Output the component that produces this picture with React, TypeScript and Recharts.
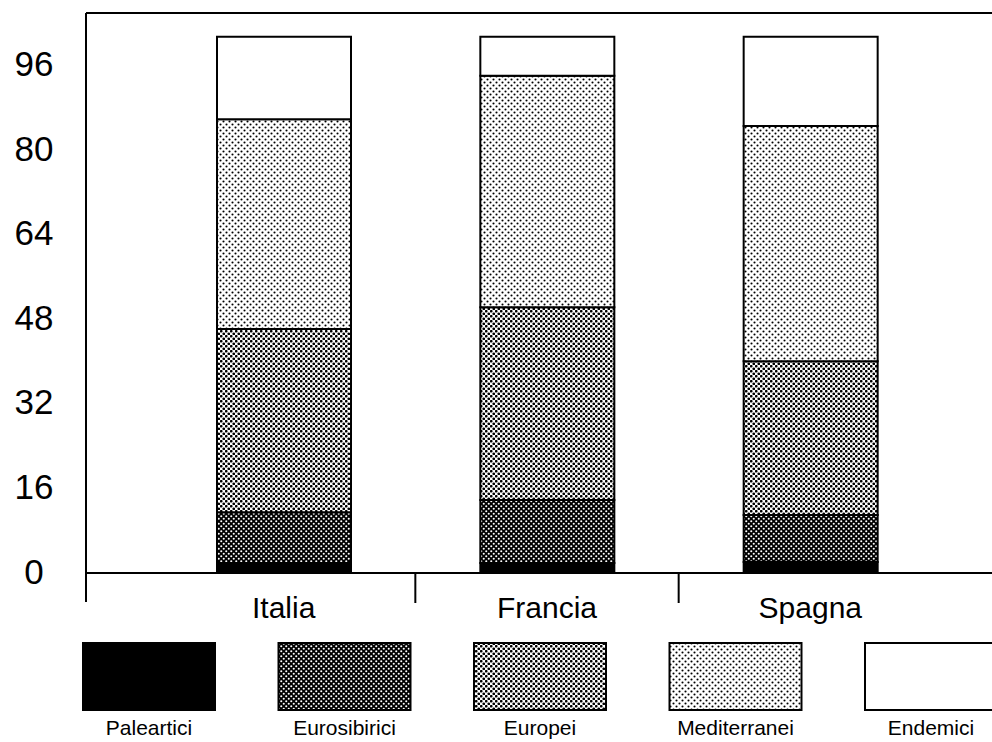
import { BarChart, Bar, XAxis, YAxis, ReferenceLine } from "recharts";

const categories = ["Italia", "Francia", "Spagna"];
const paleartici = [1.9, 1.9, 2.1];
const eurosibirici = [9.6, 11.9, 8.9];
const europei = [34.7, 36.5, 29.1];
const mediterranei = [39.7, 43.8, 44.5];
const endemici = [15.6, 7.4, 16.9];
const yTicks = [0, 16, 32, 48, 64, 80, 96];
const yMax = 106;

const FONT = "'Liberation Sans', Arial, Helvetica, sans-serif";
const PAD_LEFT = 66;

const series = [
  { key: "Paleartici", values: paleartici, pat: "", fill: "#000" },
  { key: "Eurosibirici", values: eurosibirici, pat: "sib", fill: "" },
  { key: "Europei", values: europei, pat: "eur", fill: "" },
  { key: "Mediterranei", values: mediterranei, pat: "med", fill: "" },
  { key: "Endemici", values: endemici, pat: "", fill: "#fff" },
];

const data = categories.map((name, i) => {
  const row: Record<string, string | number> = { name };
  series.forEach((s) => (row[s.key] = s.values[i]));
  return row;
});

const fillFor = (s: (typeof series)[number], prefix: string) =>
  s.pat ? `url(#${prefix}${s.pat})` : s.fill;

// halftone screens like the printed figure
const patternDefs = (p: string) => (
  <defs>
    <pattern id={`${p}sib`} width={5} height={5} patternUnits="userSpaceOnUse">
      <rect width={5} height={5} fill="#000" />
      <circle cx={1.25} cy={1.25} r={1.05} fill="#fff" />
      <circle cx={3.75} cy={3.75} r={1.05} fill="#fff" />
    </pattern>
    <pattern id={`${p}eur`} width={5} height={5} patternUnits="userSpaceOnUse">
      <rect width={5} height={5} fill="#fff" />
      <circle cx={1.25} cy={1.25} r={1.35} fill="#000" />
      <circle cx={3.75} cy={3.75} r={1.35} fill="#000" />
    </pattern>
    <pattern id={`${p}med`} width={6} height={6} patternUnits="userSpaceOnUse">
      <rect width={6} height={6} fill="#fff" />
      <circle cx={1.5} cy={1.5} r={1.05} fill="#000" />
      <circle cx={4.5} cy={4.5} r={1.05} fill="#000" />
    </pattern>
  </defs>
);

const YTick = (props: any) => {
  const { y, payload } = props;
  return (
    <text x={34} y={y - 2} textAnchor="middle" dominantBaseline="central" fontSize={35} fontFamily={FONT} fill="#000">
      {payload.value}
    </text>
  );
};

const XTick = (props: any) => {
  const { x, y, payload, index } = props;
  const half = payload.offset ?? 0;
  return (
    <g>
      {index < categories.length - 1 && (
        <line x1={x + half} x2={x + half} y1={y} y2={y + 30} stroke="#000" strokeWidth={2} />
      )}
      {index === 0 && (
        <line x1={x - half - PAD_LEFT} x2={x - half - PAD_LEFT} y1={y} y2={y + 29} stroke="#000" strokeWidth={2} />
      )}
      <text x={x} y={y + 45} textAnchor="middle" fontSize={30} fontFamily={FONT} fill="#000">
        {payload.value}
      </text>
    </g>
  );
};

const LegendRow = () => (
  <svg width={992} height={112} style={{ position: "absolute", left: 0, top: 630 }}>
    {patternDefs("lg")}
    {series.map((s, i) => {
      const x = 83 + i * 195.5;
      return (
        <g key={s.key}>
          <rect x={x} y={13} width={132} height={67} fill={fillFor(s, "lg")} stroke="#000" strokeWidth={2} />
          <text x={x + 66} y={105} textAnchor="middle" fontSize={21} fontFamily={FONT} fill="#000">
            {s.key}
          </text>
        </g>
      );
    })}
  </svg>
);

export default function App() {
  return (
    <div style={{ position: "absolute", left: 0, top: 0, width: 992, height: 742, overflow: "hidden", background: "#fff" }}>
      <BarChart width={992} height={630} data={data} margin={{ top: 13, right: 0, bottom: 0, left: 0 }} barSize={134}>
        {patternDefs("c")}
        <XAxis
          dataKey="name"
          height={57}
          padding={{ left: PAD_LEFT, right: 50 }}
          axisLine={{ stroke: "#000", strokeWidth: 2 }}
          tickLine={false}
          tickSize={0}
          tickMargin={0}
          tick={<XTick />}
          interval={0}
        />
        <YAxis
          width={86}
          domain={[0, yMax]}
          ticks={yTicks}
          allowDataOverflow
          axisLine={{ stroke: "#000", strokeWidth: 2 }}
          tickLine={false}
          tick={<YTick />}
          interval={0}
        />
        <ReferenceLine y={yMax} stroke="#000" strokeWidth={2} />
        {series.map((s) => (
          <Bar
            key={s.key}
            dataKey={s.key}
            stackId="a"
            fill={fillFor(s, "c")}
            stroke="#000"
            strokeWidth={2}
            isAnimationActive={false}
          />
        ))}
      </BarChart>
      <LegendRow />
    </div>
  );
}
